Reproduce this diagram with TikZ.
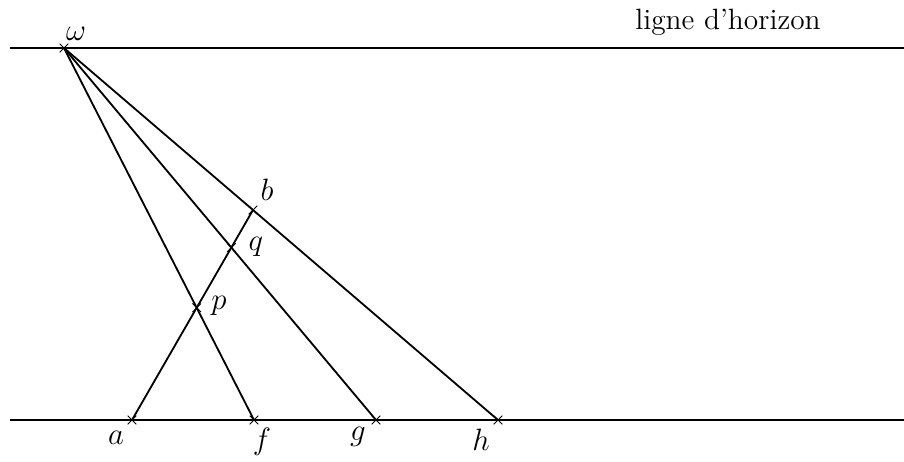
\documentclass[tikz,border=0pt]{standalone}
\usetikzlibrary{calc}
\tikzset{
  ln/.style={line width=0.85pt},
  cross/.style={line width=0.4pt},
  lbl/.style={inner sep=0pt, font=\fontsize{13.7}{16}\selectfont}
}
\newcommand{\mycross}[1]{\draw[cross] ([shift={(-2pt,-2pt)}]#1) -- ([shift={(2pt,2pt)}]#1) ([shift={(-2pt,2pt)}]#1) -- ([shift={(2pt,-2pt)}]#1);}
\begin{document}
\begin{tikzpicture}[x=0.0164cm,y=-0.0164cm]
\useasboundingbox (0,0) rectangle (904,461);
\coordinate (hl) at (10,48);
\coordinate (hr) at (904,48);
\coordinate (bl) at (10,420);
\coordinate (br) at (904,420);
\coordinate (w) at (64,48);
\coordinate (a) at (132,420);
\coordinate (f) at (254,420);
\coordinate (g) at (376,420);
\coordinate (h) at (498,420);
\coordinate (b) at ($(w)!{(253-64)/(498-64)}!(h)$);
\coordinate (p) at (intersection of a--b and w--f);
\coordinate (q) at (intersection of a--b and w--g);
\draw[ln] (hl) -- (hr);
\draw[ln] (bl) -- (br);
\draw[ln] (w) -- (f);
\draw[ln] (w) -- (g);
\draw[ln] (w) -- (h);
\draw[ln] (a) -- (b);
\foreach \c in {w,a,f,g,h,b,p,q} {\mycross{\c}}
\node[lbl] (lw) at (76,34) {$\omega$};
\node[lbl] (lb) at (267,190) {$b$};
\node[lbl] (lq) at (256,247) {$q$};
\node[lbl] (lp) at (219,306) {$p$};
\node[lbl] (la) at (116,438) {$a$};
\node[lbl] (lf) at (262,442) {$f$};
\node[lbl] (lg) at (358,437) {$g$};
\node[lbl] (lh) at (481,440) {$h$};
\node[lbl] (hz) at (728,22) {ligne d'horizon};
\end{tikzpicture}
\end{document}
